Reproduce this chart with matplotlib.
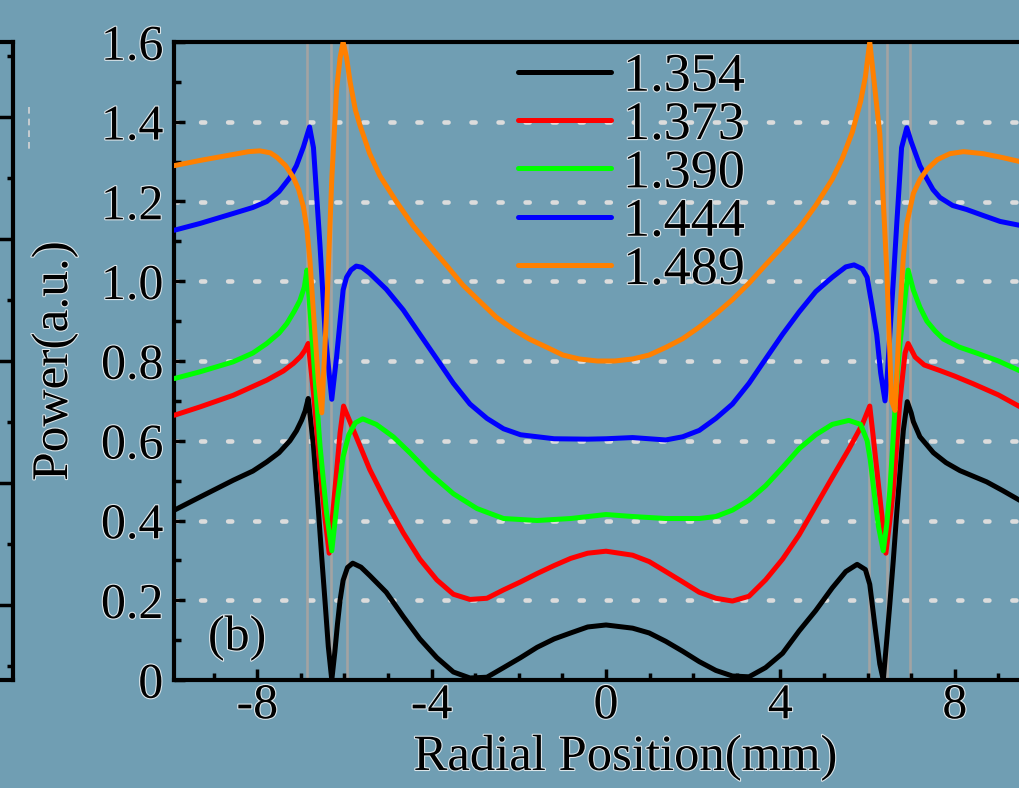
import matplotlib
matplotlib.use("Agg")
import matplotlib.pyplot as plt
import matplotlib.patheffects as pe
from matplotlib.lines import Line2D
from matplotlib.ticker import MultipleLocator, FixedLocator, FuncFormatter

# radial power profiles, one per refractive index
labels = ["1.354", "1.373", "1.390", "1.444", "1.489"]
colors = ["#000000", "#ff0000", "#00ff00", "#0000ff", "#ff8000"]

x_1354 = [-9.9, -9.31, -8.55, -8.1, -7.78, -7.5, -7.25, -7.1, -6.98, -6.9,
          -6.83, -6.71, -6.6, -6.52, -6.44, -6.37, -6.29, -6.22, -6.16, -6.1,
          -6.03, -5.93, -5.81, -5.62, -5.42, -5.04, -4.65, -4.27, -3.88, -3.5,
          -3.12, -2.73, -2.35, -1.96, -1.58, -1.19, -0.81, -0.42, 0.0, 0.61,
          0.99, 1.37, 1.76, 2.14, 2.52, 2.9, 3.28, 3.66, 4.05, 4.43,
          4.81, 5.19, 5.5, 5.76, 5.95, 6.05, 6.17, 6.28, 6.36, 6.44,
          6.51, 6.59, 6.67, 6.75, 6.82, 6.91, 7.0, 7.05, 7.2, 7.51,
          7.8, 8.12, 8.73, 9.1, 9.5]
p_1354 = [0.426, 0.459, 0.501, 0.524, 0.547, 0.570, 0.600, 0.625, 0.652, 0.675,
          0.706, 0.587, 0.430, 0.307, 0.190, 0.084, 0.0, 0.070, 0.140, 0.200,
          0.250, 0.282, 0.293, 0.283, 0.262, 0.220, 0.159, 0.103, 0.056, 0.020,
          0.005, 0.007, 0.031, 0.056, 0.082, 0.103, 0.118, 0.133, 0.138, 0.130,
          0.118, 0.097, 0.072, 0.046, 0.024, 0.010, 0.008, 0.031, 0.067, 0.123,
          0.174, 0.231, 0.272, 0.290, 0.277, 0.240, 0.134, 0.040, 0.0, 0.100,
          0.190, 0.300, 0.420, 0.530, 0.626, 0.698, 0.670, 0.648, 0.610, 0.570,
          0.545, 0.525, 0.497, 0.475, 0.450]

x_1373 = [-9.9, -9.31, -8.55, -7.78, -7.4, -7.17, -7.0, -6.9, -6.83, -6.71,
          -6.56, -6.45, -6.35, -6.22, -6.1, -6.02, -5.9, -5.73, -5.42, -5.04,
          -4.65, -4.27, -3.88, -3.5, -3.12, -2.73, -2.35, -1.96, -1.58, -1.19,
          -0.81, -0.42, 0.0, 0.61, 0.99, 1.37, 1.76, 2.14, 2.52, 2.9,
          3.28, 3.66, 4.05, 4.43, 4.81, 5.19, 5.57, 5.88, 6.05, 6.13,
          6.21, 6.32, 6.42, 6.5, 6.59, 6.67, 6.74, 6.86, 6.93, 7.09,
          7.3, 7.66, 8.0, 8.42, 9.0, 9.5]
p_1373 = [0.664, 0.685, 0.714, 0.752, 0.775, 0.794, 0.812, 0.828, 0.844, 0.720,
          0.530, 0.410, 0.318, 0.475, 0.620, 0.687, 0.655, 0.610, 0.528, 0.446,
          0.369, 0.303, 0.251, 0.215, 0.202, 0.205, 0.226, 0.246, 0.267, 0.287,
          0.305, 0.318, 0.323, 0.313, 0.297, 0.272, 0.246, 0.220, 0.205, 0.198,
          0.210, 0.251, 0.303, 0.364, 0.436, 0.508, 0.579, 0.641, 0.687, 0.610,
          0.530, 0.420, 0.318, 0.390, 0.475, 0.590, 0.698, 0.820, 0.844, 0.810,
          0.790, 0.776, 0.762, 0.743, 0.715, 0.685]

x_1390 = [-9.9, -9.31, -8.55, -8.1, -7.78, -7.5, -7.32, -7.15, -7.02, -6.92,
          -6.86, -6.71, -6.56, -6.41, -6.29, -6.16, -6.03, -5.9, -5.75, -5.58,
          -5.27, -4.88, -4.5, -4.04, -3.5, -2.96, -2.35, -1.58, -0.81, 0.0,
          0.61, 1.37, 2.14, 2.52, 2.9, 3.28, 3.66, 4.05, 4.43, 4.81,
          5.19, 5.57, 5.84, 5.99, 6.06, 6.15, 6.25, 6.36, 6.44, 6.51,
          6.59, 6.67, 6.75, 6.82, 6.93, 7.05, 7.2, 7.36, 7.55, 7.74,
          8.1, 8.5, 9.0, 9.5]
p_1390 = [0.756, 0.773, 0.798, 0.820, 0.844, 0.870, 0.894, 0.925, 0.952, 0.985,
          1.028, 0.810, 0.587, 0.419, 0.324, 0.453, 0.560, 0.615, 0.645, 0.655,
          0.641, 0.610, 0.570, 0.518, 0.467, 0.430, 0.405, 0.400, 0.405, 0.415,
          0.410, 0.405, 0.405, 0.410, 0.426, 0.451, 0.487, 0.533, 0.580, 0.615,
          0.641, 0.651, 0.641, 0.600, 0.553, 0.470, 0.385, 0.324, 0.390, 0.475,
          0.610, 0.754, 0.850, 0.920, 1.028, 0.978, 0.935, 0.900, 0.875, 0.855,
          0.835, 0.820, 0.800, 0.775]

x_1444 = [-9.9, -9.31, -8.55, -8.1, -7.78, -7.5, -7.25, -7.1, -6.94, -6.8,
          -6.71, -6.56, -6.44, -6.29, -6.18, -6.1, -6.03, -5.95, -5.85, -5.73,
          -5.6, -5.42, -5.04, -4.65, -4.27, -3.88, -3.5, -3.12, -2.73, -2.35,
          -1.96, -1.19, -0.42, 0.0, 0.61, 1.37, 1.76, 2.14, 2.52, 2.9,
          3.28, 3.66, 4.05, 4.43, 4.81, 5.19, 5.5, 5.69, 5.88, 5.99,
          6.1, 6.21, 6.3, 6.4, 6.45, 6.51, 6.59, 6.67, 6.78, 6.9,
          7.0, 7.05, 7.2, 7.36, 7.5, 7.66, 7.95, 8.27, 8.65, 9.04,
          9.5]
p_1444 = [1.128, 1.145, 1.170, 1.185, 1.200, 1.225, 1.260, 1.290, 1.337, 1.387,
          1.335, 1.089, 0.866, 0.704, 0.810, 0.900, 0.978, 1.010, 1.028, 1.038,
          1.035, 1.020, 0.980, 0.928, 0.867, 0.805, 0.744, 0.692, 0.656, 0.630,
          0.615, 0.605, 0.604, 0.605, 0.608, 0.602, 0.610, 0.626, 0.656, 0.692,
          0.744, 0.805, 0.867, 0.923, 0.974, 1.010, 1.036, 1.041, 1.031, 1.010,
          0.940, 0.866, 0.770, 0.700, 0.760, 0.866, 1.000, 1.145, 1.335, 1.385,
          1.350, 1.335, 1.290, 1.257, 1.230, 1.210, 1.190, 1.180, 1.165, 1.150,
          1.140]

x_1489 = [-9.9, -9.31, -8.55, -8.2, -7.94, -7.7, -7.55, -7.35, -7.17, -7.05,
          -6.94, -6.86, -6.79, -6.71, -6.6, -6.52, -6.41, -6.29, -6.18, -6.1,
          -6.03, -5.95, -5.87, -5.75, -5.64, -5.42, -5.19, -4.81, -4.43, -4.05,
          -3.66, -3.28, -2.9, -2.52, -2.14, -1.76, -1.37, -0.99, -0.61, -0.2,
          0.2, 0.61, 0.99, 1.37, 1.76, 2.14, 2.52, 2.9, 3.28, 3.66,
          4.05, 4.43, 4.81, 5.19, 5.42, 5.65, 5.84, 5.95, 6.05, 6.15,
          6.28, 6.36, 6.44, 6.55, 6.63, 6.74, 6.82, 6.9, 7.05, 7.2,
          7.36, 7.6, 7.89, 8.2, 8.65, 9.1, 9.5]
p_1489 = [1.290, 1.303, 1.318, 1.325, 1.327, 1.322, 1.311, 1.290, 1.260, 1.230,
          1.186, 1.130, 1.050, 0.920, 0.754, 0.670, 0.920, 1.257, 1.480, 1.560,
          1.600, 1.560, 1.500, 1.430, 1.390, 1.320, 1.265, 1.200, 1.140, 1.090,
          1.040, 0.990, 0.950, 0.910, 0.880, 0.855, 0.835, 0.815, 0.805, 0.800,
          0.800, 0.805, 0.815, 0.834, 0.856, 0.885, 0.918, 0.954, 0.995, 1.041,
          1.087, 1.133, 1.190, 1.256, 1.308, 1.374, 1.451, 1.513, 1.600, 1.500,
          1.370, 1.200, 1.030, 0.700, 0.676, 0.920, 1.060, 1.145, 1.220, 1.255,
          1.280, 1.305, 1.320, 1.325, 1.320, 1.310, 1.300]

xs = [x_1354, x_1373, x_1390, x_1444, x_1489]
ps = [p_1354, p_1373, p_1390, p_1444, p_1489]

# layer boundaries (mm)
boundaries = [-6.85, -6.31, -5.93, 6.03, 6.44, 6.97]
grid_levels = [0.2, 0.4, 0.6, 0.8, 1.0, 1.2, 1.4]

W, H = 1019, 788
bg = "#709eb3"
halo = [pe.withStroke(linewidth=1.6, foreground="#dde6ea")]

plt.rcParams["font.family"] = ["Liberation Serif", "DejaVu Serif"]
plt.rcParams["axes.unicode_minus"] = False

fig = plt.figure(figsize=(W / 100, H / 100), dpi=100, facecolor=bg)

# edge of the neighbouring panel
ax0 = fig.add_axes([-0.2, 108 / H, (13 + 0.2 * W) / W, 638 / H])
ax0.set_facecolor("none")
ax0.set_xlim(0, 1)
ax0.set_ylim(0, 638)
ax0.spines["left"].set_visible(False)
for s in ["right", "top", "bottom"]:
    ax0.spines[s].set_linewidth(3)
ax0.set_xticks([])
ax0.yaxis.tick_right()
ax0.yaxis.set_major_locator(FixedLocator([75, 197, 319, 441, 563]))
ax0.yaxis.set_minor_locator(FixedLocator([14, 136, 258, 380, 502, 624]))
ax0.tick_params(axis="y", which="major", direction="in", length=14, width=2.5, labelright=False)
ax0.tick_params(axis="y", which="minor", direction="in", length=4, width=2.5)
fig.add_artist(Line2D([29 / W, 29 / W], [1 - 107 / H, 1 - 150 / H], color="#d5d5d5",
                      lw=1.2, ls=(0, (4, 3))))

# main panel
ax = fig.add_axes([174.4 / W, 108 / H, 863.2 / W, 638 / H])
ax.set_facecolor("none")
ax.set_xlim(-9.9, 9.9)
ax.set_ylim(0, 1.6)

for lvl in grid_levels:
    ax.axhline(lvl, color="#dcdcdc", lw=3.3, ls=(0.1, (0.9, 5.0)),
               dash_capstyle="round", zorder=1)
for b in boundaries:
    ax.axvline(b, color="#a3a3a3", lw=1.9, zorder=1.5)

for x, p, c, lab in zip(xs, ps, colors, labels):
    ax.plot(x, p, color=c, lw=3.6, label=lab, solid_joinstyle="round",
            solid_capstyle="round", zorder=3)

for s in ["left", "top", "bottom"]:
    ax.spines[s].set_linewidth(3)
ax.spines["right"].set_visible(False)

ax.xaxis.set_major_locator(FixedLocator([-8, -4, 0, 4, 8]))
ax.xaxis.set_minor_locator(MultipleLocator(1))
ax.yaxis.set_major_locator(MultipleLocator(0.2))
ax.yaxis.set_minor_locator(MultipleLocator(0.1))
ax.yaxis.set_major_formatter(FuncFormatter(lambda v, _: "0" if abs(v) < 1e-9 else f"{v:.1f}"))
ax.xaxis.set_major_formatter(FuncFormatter(lambda v, _: f"{v:.0f}"))
ax.tick_params(which="major", direction="in", length=8, width=2.5, labelsize=36, pad=8)
ax.tick_params(which="minor", direction="in", length=5, width=2.5)
ax.tick_params(axis="x", which="major", pad=2)
for t in ax.get_xticklabels() + ax.get_yticklabels():
    t.set_path_effects(halo)

ax.set_xlabel("Radial Position(mm)", fontsize=36.5, path_effects=halo)
ax.xaxis.label.set_va("baseline")
ax.xaxis.set_label_coords(0.523, -0.141)
ax.set_ylabel("Power(a.u.)", fontsize=37, path_effects=halo)
ax.yaxis.label.set_va("baseline")
ax.yaxis.set_label_coords(-0.1244, 0.5)

ax.text(-9.13, 0.075, "(b)", fontsize=36, ha="left", va="baseline", path_effects=halo)

leg = ax.legend(loc="upper left", bbox_to_anchor=(0.398, 0.984), frameon=False,
                fontsize=39, handlelength=1.72, handletextpad=0.22,
                labelspacing=-0.04, borderpad=0, borderaxespad=0)
for t in leg.get_texts():
    t.set_path_effects(halo)

fig.savefig("out.png", dpi=100, facecolor=bg)
